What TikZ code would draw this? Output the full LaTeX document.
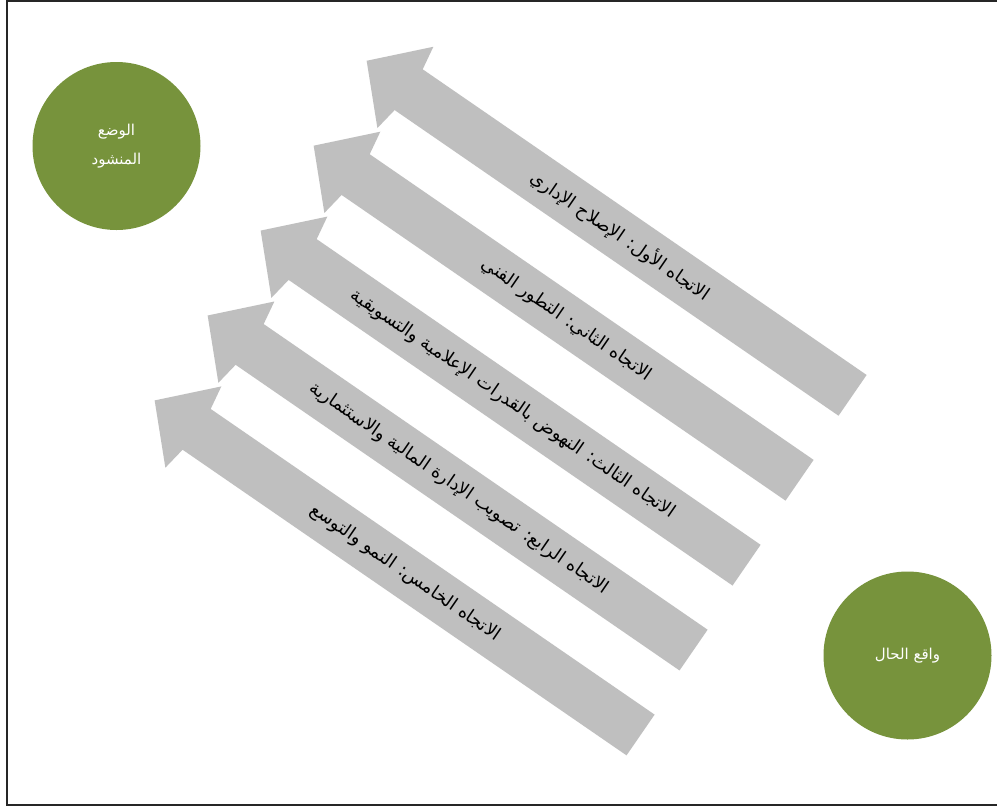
\documentclass[tikz,border=0pt]{standalone}
\usepackage{fontspec}
\newfontfamily\arabicfont[Script=Arabic]{DejaVu Sans}
\TeXXeTstate=1
\definecolor{olivegreen}{HTML}{77933C}
\definecolor{arrowgray}{HTML}{BFBFBF}
\begin{document}
\begin{tikzpicture}[x=1pt,y=-1pt,
  arr/.style={fill=arrowgray, draw=none},
  lbl/.style={font=\arabicfont\fontsize{18}{20}\selectfont, rotate=-34.55, inner sep=0pt, text=black},
  circ/.style={circle, fill=olivegreen, minimum size=168pt, inner sep=0pt, text=white,
    font=\arabicfont\fontsize{15}{29}\selectfont, align=center}]
\useasboundingbox (0,0) rectangle (997,807);
\fill[white] (0,0) rectangle (997,807);
\draw[line width=1.5pt, black!85] (7,1) rectangle (998,805);

\node[circ] (goal) at (116.5,146) {\beginR الوضع\endR\\\beginR المنشود\endR};
\node[circ] (current) at (907.5,655.5) {\beginR واقع الحال\endR};

\begin{scope}[shift={(422.7,69.3)}, rotate=-34.55]
\foreach \k in {0,...,4} {
  \pgfmathsetmacro\s{4.5*\k}
  \pgfmathsetmacro\c{100*\k}
  \fill[arr] (\s,\c) -- ({\s+539},\c) -- ({\s+539},{\c+49.5}) -- (\s,{\c+49.5})
    -- ({\s-4},{\c+74.1}) -- ({\s-51},{\c+24.75}) -- ({\s-4},{\c-24.6}) -- cycle;
}
\node[lbl] (t1) at (257,24.75) {\beginR الاتجاه الأول: الإصلاح الإداري\endR};
\node[lbl] (t2) at (260.5,124.75) {\beginR الاتجاه الثاني: التطور الفني\endR};
\node[lbl] (t3) at (264,224.75) {\beginR الاتجاه الثالث: النهوض بالقدرات الإعلامية والتسويقية\endR};
\node[lbl] (t4) at (267.5,324.75) {\beginR الاتجاه الرابع: تصويب الإدارة المالية والاستثمارية\endR};
\node[lbl] (t5) at (271,424.75) {\beginR الاتجاه الخامس: النمو والتوسع\endR};
\end{scope}
\end{tikzpicture}
\end{document}
